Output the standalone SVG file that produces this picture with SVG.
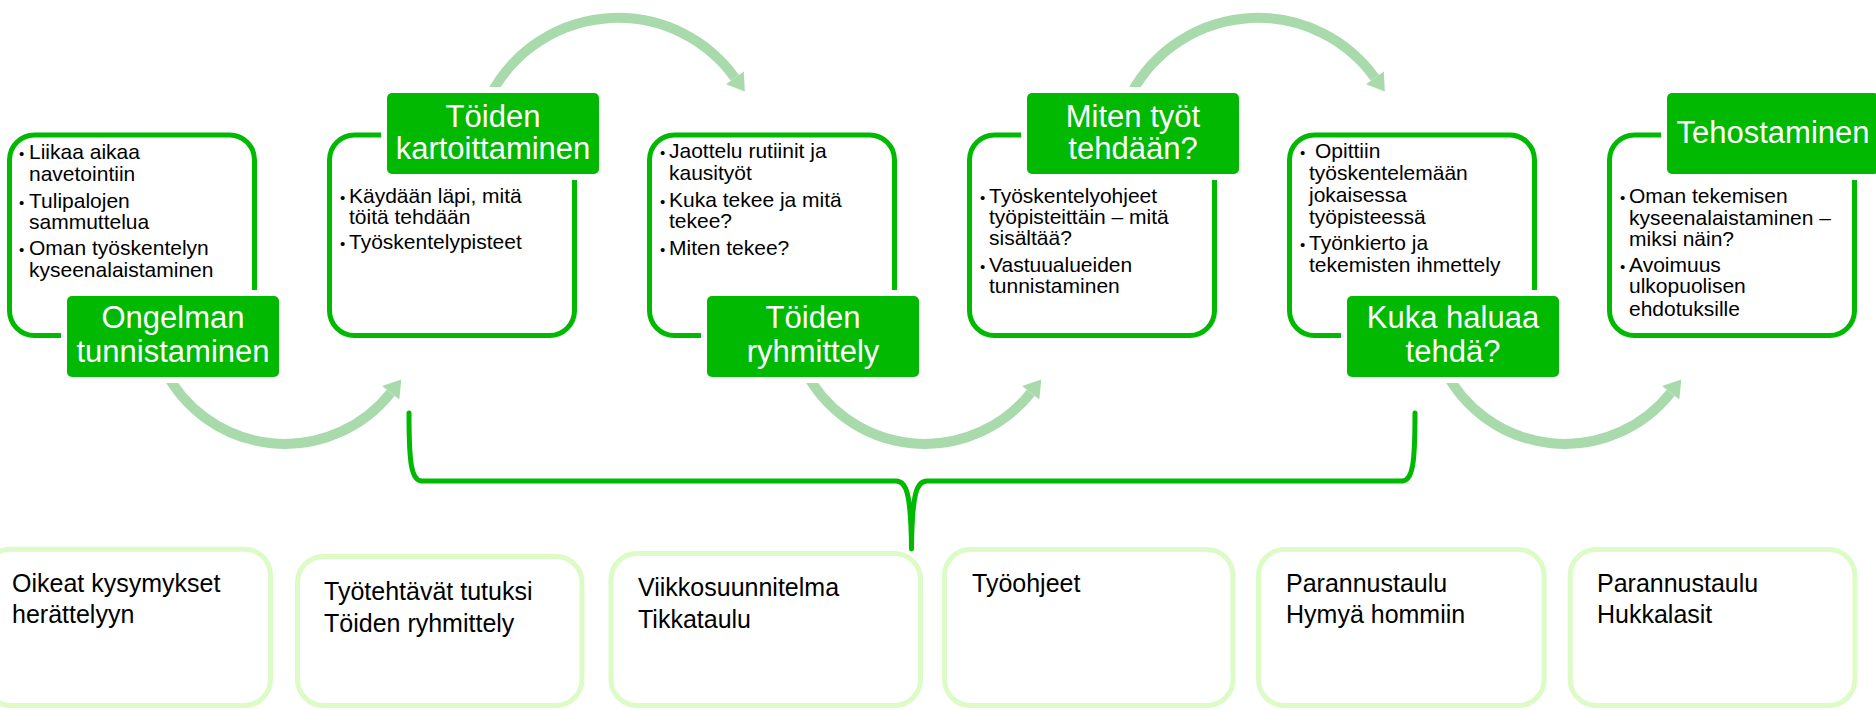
<svg xmlns="http://www.w3.org/2000/svg" width="1876" height="710" viewBox="0 0 1876 710">
<defs>
<style>
.box{fill:#fff;stroke:#00b900;stroke-width:5}
.lbl{fill:#00b900;stroke:#fff;stroke-width:12;paint-order:stroke}
.lt{font-family:"Liberation Sans",Arial,sans-serif;font-size:31px;fill:#fff;text-anchor:middle}
.bt{font-family:"Liberation Sans",Arial,sans-serif;font-size:21px;fill:#000}
.b{font-size:15px}
.out{fill:#fff;stroke:#dcfbc6;stroke-width:5}
.ot{font-family:"Liberation Sans",Arial,sans-serif;font-size:25px;fill:#000}
.arc{fill:none;stroke:#a8daac;stroke-width:10}
.ah{fill:#a8daac}
.brace{fill:none;stroke:#00b900;stroke-width:5;stroke-linejoin:round;stroke-linecap:round}
</style>
</defs>
<rect width="1876" height="710" fill="#fff"/>
<g id="connectors">
<path class="arc" d="M 488 100 A 144 144 0 0 1 734.9 77.8"/>
<polygon class="ah" points="744.8,91.6 743.8,71.4 726,84.2"/>
<path class="arc" d="M 1128 100 A 144 144 0 0 1 1374.9 77.8"/>
<polygon class="ah" points="1384.8,91.6 1383.8,71.4 1366,84.2"/>
<path class="arc" d="M 164.6 370 A 135 135 0 0 0 390.7 392.8"/>
<polygon class="ah" points="401.3,379.5 399.3,399.6 382.1,386"/>
<path class="arc" d="M 804.6 370 A 135 135 0 0 0 1030.7 392.8"/>
<polygon class="ah" points="1041.3,379.5 1039.3,399.6 1022.1,386"/>
<path class="arc" d="M 1444.6 370 A 135 135 0 0 0 1670.7 392.8"/>
<polygon class="ah" points="1681.3,379.5 1679.3,399.6 1662.1,386"/>
<path class="brace" d="M 409 413 C 409 462 411 481 422 481 L 896 481 C 906 481 911 492 911.5 549 C 912 492 917 481 927 481 L 1402 481 C 1413 481 1415 462 1415 413"/>
</g>
<g id="node1">
<rect class="box" x="9.5" y="135" width="245" height="200.5" rx="25"/>
<text class="bt"><tspan class="b" x="19" y="159">•</tspan><tspan x="29" y="159">Liikaa aikaa</tspan><tspan x="29" y="181">navetointiin</tspan><tspan class="b" x="19" y="208">•</tspan><tspan x="29" y="208">Tulipalojen</tspan><tspan x="29" y="229">sammuttelua</tspan><tspan class="b" x="19" y="255">•</tspan><tspan x="29" y="255">Oman työskentelyn</tspan><tspan x="29" y="277">kyseenalaistaminen</tspan></text>
<rect class="lbl" x="67" y="296" width="212" height="81" rx="5"/>
<text class="lt"><tspan x="173" y="328">Ongelman</tspan><tspan x="173" y="362">tunnistaminen</tspan></text>
</g>
<g id="node2">
<rect class="box" x="329.5" y="135" width="245" height="200.5" rx="25"/>
<text class="bt"><tspan class="b" x="340" y="203">•</tspan><tspan x="349" y="203">Käydään läpi, mitä</tspan><tspan x="349" y="224">töitä tehdään</tspan><tspan class="b" x="340" y="249">•</tspan><tspan x="349" y="249">Työskentelypisteet</tspan></text>
<rect class="lbl" x="387" y="93" width="212" height="81" rx="5"/>
<text class="lt"><tspan x="493" y="127">Töiden</tspan><tspan x="493" y="159">kartoittaminen</tspan></text>
</g>
<g id="node3">
<rect class="box" x="649.5" y="135" width="245" height="200.5" rx="25"/>
<text class="bt"><tspan class="b" x="660" y="158">•</tspan><tspan x="669" y="158">Jaottelu rutiinit ja</tspan><tspan x="669" y="180">kausityöt</tspan><tspan class="b" x="660" y="207">•</tspan><tspan x="669" y="207">Kuka tekee ja mitä</tspan><tspan x="669" y="228">tekee?</tspan><tspan class="b" x="660" y="255">•</tspan><tspan x="669" y="255">Miten tekee?</tspan></text>
<rect class="lbl" x="707" y="296" width="212" height="81" rx="5"/>
<text class="lt"><tspan x="813" y="328">Töiden</tspan><tspan x="813" y="362">ryhmittely</tspan></text>
</g>
<g id="node4">
<rect class="box" x="969.5" y="135" width="245" height="200.5" rx="25"/>
<text class="bt"><tspan class="b" x="980" y="203">•</tspan><tspan x="989" y="203">Työskentelyohjeet</tspan><tspan x="989" y="224">työpisteittäin – mitä</tspan><tspan x="989" y="245">sisältää?</tspan><tspan class="b" x="980" y="272">•</tspan><tspan x="989" y="272">Vastuualueiden</tspan><tspan x="989" y="293">tunnistaminen</tspan></text>
<rect class="lbl" x="1027" y="93" width="212" height="81" rx="5"/>
<text class="lt"><tspan x="1133" y="127">Miten työt</tspan><tspan x="1133" y="159">tehdään?</tspan></text>
</g>
<g id="node5">
<rect class="box" x="1289.5" y="135" width="245" height="200.5" rx="25"/>
<text class="bt"><tspan class="b" x="1300" y="158">•</tspan><tspan x="1315" y="158">Opittiin</tspan><tspan x="1309" y="180">työskentelemään</tspan><tspan x="1309" y="202">jokaisessa</tspan><tspan x="1309" y="224">työpisteessä</tspan><tspan class="b" x="1300" y="250">•</tspan><tspan x="1309" y="250">Työnkierto ja</tspan><tspan x="1309" y="272">tekemisten ihmettely</tspan></text>
<rect class="lbl" x="1347" y="296" width="212" height="81" rx="5"/>
<text class="lt"><tspan x="1453" y="328">Kuka haluaa</tspan><tspan x="1453" y="362">tehdä?</tspan></text>
</g>
<g id="node6">
<rect class="box" x="1609.5" y="135" width="245" height="200.5" rx="25"/>
<text class="bt"><tspan class="b" x="1620" y="203">•</tspan><tspan x="1629" y="203">Oman tekemisen</tspan><tspan x="1629" y="225">kyseenalaistaminen –</tspan><tspan x="1629" y="246">miksi näin?</tspan><tspan class="b" x="1620" y="272">•</tspan><tspan x="1629" y="272">Avoimuus</tspan><tspan x="1629" y="293">ulkopuolisen</tspan><tspan x="1629" y="316">ehdotuksille</tspan></text>
<rect class="lbl" x="1667" y="93" width="212" height="81" rx="5"/>
<text class="lt"><tspan x="1773" y="143">Tehostaminen</tspan></text>
</g>
<g id="out1">
<rect class="out" x="-15.5" y="549.2" width="286" height="156.3" rx="26"/>
<text class="ot"><tspan x="12" y="592">Oikeat kysymykset</tspan><tspan x="12" y="623">herättelyyn</tspan></text>
</g>
<g id="out2">
<rect class="out" x="297.5" y="556.5" width="284.5" height="149" rx="26"/>
<text class="ot"><tspan x="324" y="600">Työtehtävät tutuksi</tspan><tspan x="324" y="632">Töiden ryhmittely</tspan></text>
</g>
<g id="out3">
<rect class="out" x="611" y="553.5" width="309.5" height="152" rx="26"/>
<text class="ot"><tspan x="638" y="596">Viikkosuunnitelma</tspan><tspan x="638" y="628">Tikkataulu</tspan></text>
</g>
<g id="out4">
<rect class="out" x="944.5" y="549.5" width="288.5" height="156" rx="26"/>
<text class="ot"><tspan x="972" y="592">Työohjeet</tspan></text>
</g>
<g id="out5">
<rect class="out" x="1258.5" y="549.5" width="285.6" height="156" rx="26"/>
<text class="ot"><tspan x="1286" y="592">Parannustaulu</tspan><tspan x="1286" y="623">Hymyä hommiin</tspan></text>
</g>
<g id="out6">
<rect class="out" x="1570.2" y="549.5" width="284.6" height="156" rx="26"/>
<text class="ot"><tspan x="1597" y="592">Parannustaulu</tspan><tspan x="1597" y="623">Hukkalasit</tspan></text>
</g>
</svg>
